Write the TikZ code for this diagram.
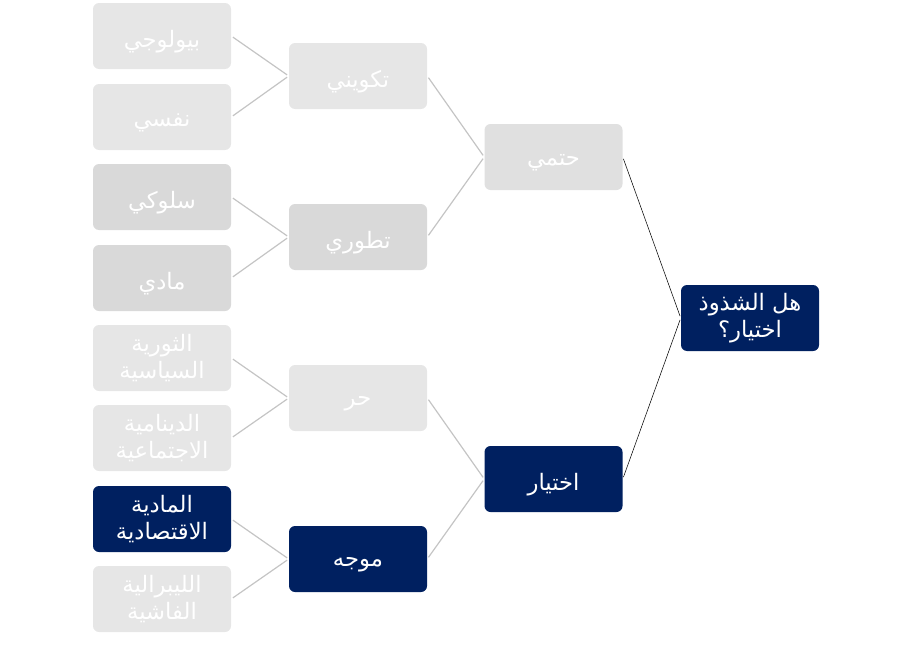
\documentclass[tikz,border=0pt]{standalone}
\usepackage{fontspec}
\newfontfamily\arabicfont[Script=Arabic]{DejaVu Sans}
\TeXXeTstate=1
\definecolor{navy}{HTML}{002060}
\definecolor{lgrey}{HTML}{E6E6E6}
\definecolor{dgrey}{HTML}{D9D9D9}
\definecolor{mgrey}{HTML}{E0E0E0}
\definecolor{lnk}{HTML}{C4C4C4}
\newcommand{\ar}[1]{\beginR #1\endR}
\newcommand{\ars}[1]{\raisebox{-4.5pt}[\height][\depth]{\beginR #1\endR}}
\begin{document}
\begin{tikzpicture}[x=0.75pt,y=-0.75pt,
  box/.style={rounded corners=4.5pt,minimum width=103.5pt,minimum height=49.5pt,
    inner sep=0pt,text=white,align=center,font=\arabicfont\fontsize{17}{20.5}\selectfont},
  lbox/.style={box,fill=lgrey},
  dbox/.style={box,fill=dgrey},
  mbox/.style={box,fill=mgrey},
  nbox/.style={box,fill=navy},
  glink/.style={draw=lnk,line width=0.9pt,shorten <=1.5pt,shorten >=1.5pt},
  blink/.style={draw=black,line width=0.4pt,shorten <=1.5pt,shorten >=1.5pt}]
\useasboundingbox (0,0) rectangle (911,646);
% level 4
\node[lbox] (a1) at (162,36) {\ars{بيولوجي}};
\node[lbox] (a2) at (162,117) {\ars{نفسي}};
\node[dbox] (a3) at (162,197) {\ars{سلوكي}};
\node[dbox] (a4) at (162,278) {\ars{مادي}};
\node[lbox] (a5) at (162,358) {\ar{الثورية}\\\ar{السياسية}};
\node[lbox] (a6) at (162,438) {\ar{الدينامية}\\\ar{الاجتماعية}};
\node[nbox] (a7) at (162,519) {\ar{المادية}\\\ar{الاقتصادية}};
\node[lbox] (a8) at (162,599) {\ar{الليبرالية}\\\ar{الفاشية}};
% level 3
\node[lbox] (b1) at (358,76) {\ars{تكويني}};
\node[dbox] (b2) at (358,237) {\ars{تطوري}};
\node[lbox] (b3) at (358,398) {\ars{حر}};
\node[nbox] (b4) at (358,559) {\ars{موجه}};
% level 2
\node[mbox] (c1) at (553.5,157) {\ars{حتمي}};
\node[nbox] (c2) at (553.5,479) {\ars{اختيار}};
% root
\node[nbox] (r) at (750,318) {\ar{هل الشذوذ}\\\ar{اختيار؟}};
% links
\draw[glink] (a1.east) -- (b1.west);
\draw[glink] (a2.east) -- (b1.west);
\draw[glink] (a3.east) -- (b2.west);
\draw[glink] (a4.east) -- (b2.west);
\draw[glink] (a5.east) -- (b3.west);
\draw[glink] (a6.east) -- (b3.west);
\draw[glink] (a7.east) -- (b4.west);
\draw[glink] (a8.east) -- (b4.west);
\draw[glink] (b1.east) -- (c1.west);
\draw[glink] (b2.east) -- (c1.west);
\draw[glink] (b3.east) -- (c2.west);
\draw[glink] (b4.east) -- (c2.west);
\draw[blink] (c1.east) -- (r.west);
\draw[blink] (c2.east) -- (r.west);
\end{tikzpicture}
\end{document}
